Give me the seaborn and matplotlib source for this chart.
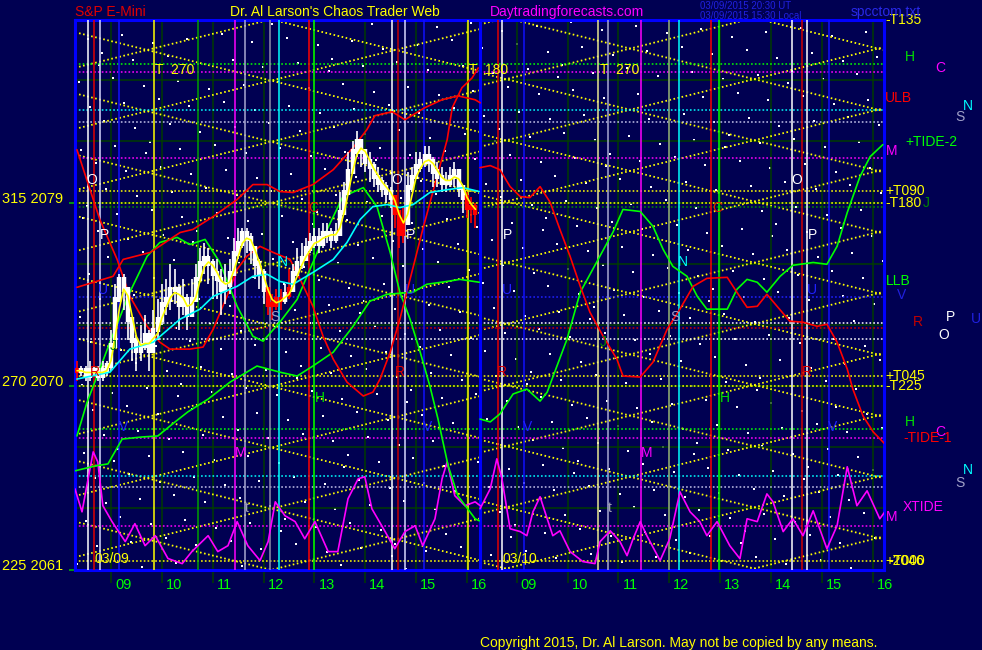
import numpy as np
import pandas as pd
import matplotlib
matplotlib.use("Agg")
import matplotlib.pyplot as plt
import matplotlib.transforms as mtransforms
import seaborn as sns

# ---------------- data ----------------
DAY2 = 7.977            # hours that the 03/10 panel is shifted right
hours = [9, 10, 11, 12, 13, 14, 15, 16]
hour_labels = ["09", "10", "11", "12", "13", "14", "15", "16"]

# 03/09 five minute bars, first bar 08:20 local
bar_start = 8 + 20 / 60
bar_close = [2070.75, 2070.75, 2070.5, 2070.75, 2070.75, 2070.5, 2070.75, 2071.0, 2072.0, 2074.25,
             2075.25, 2074.75, 2073.25, 2072.25, 2071.75, 2072.0, 2072.5, 2071.75, 2072.75, 2073.25,
             2074.0, 2074.25, 2074.75, 2074.75, 2074.0, 2074.25, 2073.5, 2074.25, 2075.25, 2076.0,
             2076.25, 2076.0, 2075.5, 2075.25, 2074.75, 2075.0, 2075.5, 2076.5, 2077.0, 2077.5,
             2077.25, 2076.75, 2076.0, 2075.5, 2074.75, 2074.0, 2074.0, 2074.25, 2074.25, 2074.5,
             2074.75, 2075.5, 2076.0, 2076.25, 2076.75, 2077.0, 2077.25, 2077.0, 2077.5, 2077.5,
             2077.25, 2077.5, 2078.5, 2079.5, 2080.5, 2081.5, 2082.0, 2081.5, 2081.0, 2080.75,
             2080.25, 2080.0, 2079.75, 2079.5, 2079.25, 2078.5, 2077.5, 2078.0, 2079.75, 2080.25,
             2080.75, 2081.0, 2081.25, 2081.0, 2080.5, 2080.25, 2080.0, 2080.0, 2080.25, 2080.5,
             2079.75, 2079.25, 2078.75, 2078.75, 2078.5]
bar_high = [2071.25, 2071.0, 2071.0, 2071.25, 2071.0, 2071.0, 2071.25, 2071.25, 2072.75, 2075.0,
            2075.5, 2075.5, 2074.25, 2073.25, 2072.5, 2073.0, 2073.5, 2072.75, 2073.75, 2074.25,
            2075.0, 2075.25, 2076.0, 2075.75, 2075.0, 2075.25, 2074.5, 2075.25, 2076.0, 2076.75,
            2077.0, 2076.75, 2076.25, 2076.25, 2075.75, 2076.0, 2076.25, 2077.25, 2077.75, 2077.75,
            2077.75, 2077.5, 2076.75, 2076.25, 2075.75, 2074.75, 2074.5, 2074.75, 2074.75, 2075.0,
            2075.75, 2076.0, 2076.75, 2077.0, 2077.25, 2077.5, 2077.75, 2077.75, 2078.0, 2078.0,
            2077.75, 2078.0, 2079.5, 2080.0, 2081.5, 2082.0, 2082.5, 2082.0, 2081.5, 2081.5,
            2081.0, 2080.75, 2080.25, 2080.0, 2079.75, 2079.0, 2078.25, 2078.75, 2080.5, 2080.75,
            2081.5, 2081.5, 2081.75, 2081.75, 2081.25, 2081.0, 2080.75, 2080.5, 2080.75, 2081.0,
            2080.5, 2079.75, 2079.5, 2079.25, 2079.0]
bar_low = [2070.25, 2070.5, 2070.25, 2070.25, 2070.5, 2070.25, 2070.25, 2070.5, 2070.75, 2072.25,
           2074.25, 2073.75, 2072.25, 2071.25, 2070.75, 2071.25, 2071.75, 2070.75, 2071.75, 2072.25,
           2073.0, 2073.5, 2073.75, 2074.0, 2072.75, 2073.5, 2072.75, 2073.5, 2074.5, 2075.25,
           2075.5, 2075.0, 2074.25, 2074.25, 2073.5, 2074.0, 2074.5, 2075.75, 2076.25, 2076.75,
           2076.5, 2076.0, 2075.25, 2074.75, 2074.0, 2073.5, 2073.25, 2073.75, 2073.75, 2074.0,
           2074.25, 2075.0, 2075.5, 2075.75, 2076.25, 2076.5, 2076.75, 2076.5, 2076.75, 2077.0,
           2076.75, 2077.0, 2077.5, 2078.75, 2079.5, 2080.75, 2081.25, 2080.75, 2080.5, 2080.0,
           2079.75, 2079.5, 2079.25, 2079.0, 2078.75, 2077.75, 2076.75, 2077.0, 2078.75, 2079.5,
           2080.25, 2080.5, 2080.75, 2080.5, 2079.75, 2079.75, 2079.5, 2079.5, 2079.75, 2079.75,
           2079.25, 2078.5, 2078.25, 2078.0, 2077.75]
red_bars = [0, 45, 46, 47, 48, 50, 75, 76, 77, 92, 93, 94]

# indicator lines, (clock hour, price); day 1 = 03/09, day 2 = 03/10
cyan_t = [8.33, 8.98, 9.37, 9.83, 10.36, 10.75, 11.01, 11.48, 11.79, 12.07, 12.32, 12.58,
          12.97, 13.37, 13.64, 13.9, 14.15, 14.43, 14.68, 14.94, 15.27, 15.61, 15.92, 16.24]
cyan_p = [2070.34, 2070.68, 2071.81, 2072.15, 2073.28, 2073.77, 2074.4, 2074.89, 2075.38, 2075.48,
          2075.13, 2074.99, 2075.57, 2076.21, 2077.04, 2078.17, 2078.8, 2078.9, 2078.75, 2078.9,
          2079.49, 2079.63, 2079.73, 2079.54]

green1_t = [8.33, 8.53, 8.78, 8.98, 9.37, 9.71, 9.96, 10.3, 10.55, 10.85, 11.14, 11.48, 11.79,
            11.99, 12.32, 12.66, 12.97, 13.25, 13.56, 13.96, 14.23, 14.49, 14.68, 14.88, 15.08,
            15.27, 15.43, 15.63, 15.82, 16.16, 16.24]
green1_p = [2067.55, 2069.21, 2070.83, 2072.15, 2074.6, 2076.36, 2077.04, 2077.29, 2076.94,
            2077.19, 2076.06, 2073.91, 2072.44, 2072.2, 2073.13, 2074.25, 2076.06, 2077.68,
            2079.29, 2079.73, 2078.8, 2076.55, 2074.6, 2073.28, 2071.66, 2070.0, 2068.38,
            2066.08, 2064.62, 2063.49, 2063.39]

green2_t = [8.29, 8.69, 8.94, 9.22, 9.61, 9.92, 10.26, 10.51, 10.91, 11.34, 11.87, 12.32, 12.66,
            12.97, 13.37, 13.76, 14.09, 14.43, 14.94, 15.21, 15.61, 15.86, 16.24]
green2_p = [2065.84, 2066.08, 2066.18, 2067.4, 2067.5, 2067.55, 2068.24, 2068.73, 2069.36,
            2070.19, 2070.98, 2070.68, 2070.49, 2070.98, 2071.66, 2072.93, 2074.16, 2074.5,
            2074.6, 2074.99, 2075.13, 2075.23, 2075.09]

red1_t = [8.33, 9.04, 9.24, 9.77, 10.36, 10.61, 11.01, 11.48, 11.79, 12.07, 12.32, 12.58, 12.97,
          13.37, 13.76, 14.03, 14.19, 14.53, 14.78, 15.17, 15.51, 15.82, 16.16, 16.26]
red1_p = [2074.84, 2075.38, 2076.21, 2076.55, 2077.53, 2077.68, 2078.31, 2079.15, 2079.88,
          2079.88, 2079.54, 2079.49, 2079.88, 2080.61, 2081.69, 2082.57, 2083.26, 2083.45,
          2083.06, 2083.65, 2084.04, 2084.23, 2084.04, 2083.89]

red2_t = [8.33, 8.78, 9.12, 9.37, 9.71, 9.96, 10.16, 10.55, 10.81, 11.01, 11.28, 11.48, 11.67,
          11.93, 12.19, 12.52, 12.72, 12.97, 13.17, 13.37, 13.64, 13.96, 14.15, 14.29, 14.49,
          14.68, 14.88, 15.13, 15.41, 15.61, 15.71, 15.9, 16.1, 16.22]
red2_p = [2081.59, 2078.17, 2076.21, 2074.4, 2072.93, 2072.15, 2071.81, 2071.81, 2071.91,
          2072.79, 2074.4, 2075.72, 2076.36, 2076.85, 2076.55, 2076.21, 2075.23, 2073.91,
          2072.44, 2071.32, 2070.19, 2069.51, 2069.7, 2070.34, 2071.66, 2073.28, 2075.23,
          2077.68, 2080.27, 2082.08, 2083.65, 2084.63, 2085.11, 2085.6]

xtide1_t = [8.29, 8.43, 8.55, 8.65, 8.74, 8.84, 9.02, 9.28, 9.47, 9.67, 9.87, 10.12, 10.4, 10.59,
            10.79, 10.91, 11.1, 11.3, 11.48, 11.69, 11.93, 12.09, 12.23, 12.42, 12.62, 12.81,
            13.01, 13.27, 13.46, 13.66, 13.86, 13.99, 14.13, 14.39, 14.58, 14.78, 14.98, 15.13,
            15.37, 15.51, 15.61, 15.76, 15.96, 16.16, 16.26]
xtide1_p = [2064.96, 2063.83, 2065.45, 2066.77, 2066.28, 2064.13, 2063.35, 2062.37, 2063.25,
            2062.17, 2062.66, 2061.54, 2061.29, 2061.88, 2062.37, 2062.66, 2061.88, 2062.17,
            2063.35, 2062.17, 2061.44, 2062.37, 2064.32, 2063.64, 2063.35, 2062.51, 2063.35,
            2061.88, 2061.88, 2064.47, 2065.45, 2065.55, 2063.98, 2062.86, 2062.02, 2062.86,
            2063.15, 2062.17, 2063.49, 2065.45, 2066.28, 2064.62, 2064.13, 2064.32, 2064.13]

green3_t = [8.28, 8.48, 8.67, 8.93, 9.2, 9.46, 9.6, 9.99, 10.25, 10.58, 10.89, 11.09, 11.43,
            11.68, 11.88, 12.07, 12.35, 12.55, 12.74, 13.14, 13.33, 13.53, 13.73, 13.92, 14.18,
            14.43, 14.83, 15.1, 15.3, 15.5, 15.75, 15.95, 16.2]
green3_p = [2068.38, 2068.24, 2068.63, 2069.61, 2069.85, 2069.26, 2069.7, 2072.3, 2074.6,
            2076.11, 2077.53, 2078.66, 2078.56, 2077.83, 2076.7, 2075.87, 2075.38, 2074.4,
            2073.77, 2073.77, 2074.74, 2075.23, 2075.09, 2074.6, 2075.38, 2075.92, 2076.06,
            2075.97, 2076.85, 2078.51, 2080.27, 2081.25, 2081.84]

red3_t = [8.28, 8.48, 8.67, 8.87, 9.07, 9.26, 9.46, 9.66, 9.85, 10.05, 10.25, 10.44, 10.7, 10.97,
          11.09, 11.43, 11.68, 11.96, 12.21, 12.47, 12.74, 13.14, 13.33, 13.53, 13.73, 13.92,
          14.12, 14.37, 14.63, 14.91, 15.1, 15.3, 15.5, 15.61, 15.81, 16.01, 16.24]
red3_p = [2080.71, 2080.81, 2080.61, 2079.78, 2079.29, 2079.24, 2079.78, 2079.0, 2077.68,
          2076.36, 2074.89, 2073.62, 2072.44, 2071.32, 2070.49, 2070.44, 2071.17, 2072.79,
          2073.77, 2074.89, 2075.28, 2075.33, 2074.6, 2073.86, 2073.91, 2074.5, 2073.91,
          2073.18, 2073.13, 2072.93, 2073.03, 2072.15, 2070.83, 2069.85, 2068.53, 2067.75,
          2067.16]

xtide2_t = [8.28, 8.48, 8.61, 8.71, 8.87, 9.07, 9.2, 9.32, 9.46, 9.6, 9.71, 9.85, 10.05, 10.3,
            10.54, 10.64, 10.84, 11.03, 11.17, 11.29, 11.43, 11.56, 11.82, 12.01, 12.21, 12.41,
            12.6, 12.74, 12.94, 13.19, 13.39, 13.53, 13.73, 13.92, 14.04, 14.24, 14.43, 14.63,
            14.83, 15.1, 15.3, 15.5, 15.69, 15.89, 16.14, 16.24]
xtide2_p = [2063.98, 2064.96, 2066.43, 2065.45, 2063.0, 2062.86, 2062.66, 2063.83, 2064.57,
            2063.49, 2062.66, 2062.9, 2061.88, 2061.39, 2061.29, 2062.37, 2062.9, 2062.37,
            2061.68, 2062.51, 2063.35, 2062.66, 2061.44, 2062.51, 2064.81, 2063.83, 2063.35,
            2062.66, 2063.35, 2062.17, 2061.53, 2063.49, 2063.35, 2064.71, 2064.32, 2062.86,
            2063.49, 2062.66, 2063.88, 2062.02, 2063.15, 2066.04, 2064.13, 2064.86, 2063.49,
            2063.83]

# vertical event lines (clock hour, colour)
day1_events = [8.54, 8.67, 8.78, 9.16, 9.84, 10.71, 11.43, 11.64, 12.12, 12.3, 12.89, 13.0,
               14.52, 14.65, 14.79, 15.16, 16.01]
day1_colors = ["#FFFFFF", "#E00000", "#D8D8FF", "#1010FF", "#FFFF00", "#00A000", "#FF00FF",
               "#A8A8D0", "#9090A8", "#00FFFF", "#FF0000", "#00FF00", "#FFFFFF", "#C00000",
               "#D8D8FF", "#1010FF", "#FFFF00"]
day2_events = [8.64, 8.72, 9.15, 10.59, 10.79, 11.44, 12.0, 12.2, 12.83, 12.98, 14.42, 14.62,
               14.71, 15.15]
day2_colors = ["#E00000", "#FFFFFF", "#1010FF", "#E8E890", "#A8A8D0", "#FF00FF", "#98A888",
               "#00FFFF", "#FF0000", "#00FF00", "#FFFFFF", "#D00000", "#FFFFFF", "#1010FF"]

# horizontal price levels
level_prices = [2085.8, 2085.41, 2083.55, 2082.96, 2081.2, 2078.8, 2074.35, 2073.08, 2072.84,
                2072.3, 2067.89, 2067.45, 2065.6, 2065.06, 2063.15,
                2079.54, 2079.0, 2070.49, 2070.0, 2061.44]
level_colors = ["#00FF00", "#FF00FF", "#00FFFF", "#C0C0E8", "#FF00FF", "#009000", "#2020FF",
                "#FFFFFF", "#D00000", "#FFFFFF", "#00FF00", "#FF00FF", "#00FFFF", "#C0C0E8",
                "#FF00FF", "#FFFF00", "#FFFF00", "#FFFF00", "#FFFF00", "#FFFF00"]

# diagonal flux lattices (anchor hour, anchor price), slope pts/hour, spacing pts
lattice_anchor = [(9.71, 2086.48), (11.23, 2083.55)]
lattice_slope = 0.615
lattice_step = 3.0

# right margin legend texts: (text, price, axes x, colour)
side_labels = [("-T135", 2087.95, 1.002, "#FFFF00"), ("H", 2086.14, 1.026, "#00E000"),
               ("C", 2085.6, 1.063, "#FF00FF"), ("ULB", 2084.14, 1.001, "#FF0000"),
               ("N", 2083.74, 1.098, "#00FFFF"), ("S", 2083.2, 1.088, "#A0A0C8"),
               ("+TIDE-2", 2081.98, 1.026, "#00FF00"), ("M", 2081.54, 1.002, "#FF00FF"),
               ("+T090", 2079.54, 1.002, "#FFFF00"), ("-T180", 2079.0, 1.002, "#FFFF00"),
               ("J", 2079.0, 1.048, "#008800"), ("LLB", 2075.13, 1.002, "#00FF00"),
               ("V", 2074.45, 1.016, "#2020E0"), ("R", 2073.13, 1.036, "#C00000"),
               ("P", 2073.37, 1.077, "#FFFFFF"), ("U", 2073.28, 1.108, "#2020E0"),
               ("O", 2072.49, 1.067, "#FFFFFF"), ("+T045", 2070.49, 1.002, "#FFFF00"),
               ("-T225", 2070.0, 1.002, "#FFFF00"), ("H", 2068.24, 1.026, "#00E000"),
               ("C", 2067.75, 1.063, "#FF00FF"), ("-TIDE-1", 2067.45, 1.0235, "#FF0000"),
               ("N", 2065.89, 1.098, "#00FFFF"), ("S", 2065.25, 1.088, "#A0A0C8"),
               ("XTIDE", 2064.08, 1.0235, "#FF00FF"), ("M", 2063.59, 1.002, "#FF00FF"),
               ("+T000", 2061.44, 1.002, "#FFFF00"), ("-2046", 2061.44, 1.006, "#FFFF00")]

# letters inside the chart: (day, clock hour, price, text, colour)
chart_marks = [(0, 9.87, 2085.5, "T  270", "#FFFF00"), (0, 16.03, 2085.5, "T  180", "#FFFF00"),
               (1, 10.64, 2085.5, "T  270", "#FFFF00"),
               (0, 8.63, 2080.1, "O", "#FFFFFF"), (0, 8.88, 2077.4, "P", "#FFFFFF"),
               (0, 14.62, 2080.1, "O", "#FFFFFF"), (0, 14.88, 2077.4, "P", "#FFFFFF"),
               (1, 8.81, 2077.4, "P", "#FFFFFF"), (1, 14.51, 2080.1, "O", "#FFFFFF"),
               (1, 14.81, 2077.4, "P", "#FFFFFF"),
               (0, 8.84, 2074.7, "U", "#2020FF"), (0, 14.88, 2074.7, "U", "#2020FF"),
               (1, 8.81, 2074.7, "U", "#2020FF"), (1, 14.81, 2074.7, "U", "#2020FF"),
               (0, 12.38, 2076.1, "N", "#00FFFF"), (1, 12.27, 2076.1, "N", "#00FFFF"),
               (0, 12.22, 2073.4, "S", "#A0A0C8"), (1, 12.11, 2073.4, "S", "#A0A0C8"),
               (0, 12.97, 2078.75, "C", "#E02000"), (1, 12.94, 2078.75, "C", "#E02000"),
               (0, 8.69, 2070.7, "R", "#E00000"), (0, 14.68, 2070.7, "R", "#E00000"),
               (1, 8.71, 2070.7, "R", "#E00000"), (1, 14.71, 2070.7, "R", "#E00000"),
               (0, 13.11, 2069.4, "H", "#00E000"), (1, 13.09, 2069.4, "H", "#00E000"),
               (0, 11.54, 2066.7, "M", "#FF00FF"), (1, 11.56, 2066.7, "M", "#FF00FF"),
               (0, 11.67, 2064.0, "t", "#A0A0B0"), (1, 10.84, 2064.0, "t", "#A0A0B0"),
               (0, 9.24, 2068.0, "V", "#2020FF"), (0, 15.23, 2068.0, "V", "#2020FF"),
               (1, 9.22, 2068.0, "V", "#2020FF"), (1, 15.22, 2068.0, "V", "#2020FF"),
               (0, 9.05, 2071.95, "J", "#008800"), (1, 10.7, 2072.15, "J", "#008800")]

price_ticks = [2079, 2070, 2061]
price_tick_labels = ["315 2079", "270 2070", "225 2061"]

# ---------------- drawing ----------------
BG = "#000052"
sns.set_theme(style="dark", rc={"axes.facecolor": BG, "figure.facecolor": BG,
                                "axes.grid": False})
plt.rcParams["font.family"] = ["Liberation Sans", "DejaVu Sans"]

fig = plt.figure(figsize=(9.82, 6.5), dpi=100)
ax = fig.add_axes([0.07637, 0.1238, 0.8238, 0.8454])
ax.set_facecolor(BG)
X0, X1 = 8.292, 24.199
ax.set_xlim(X0, X1)
ax.set_ylim(2061.07, 2087.95)
day_edge = 16.255

# star speckle (low discrepancy sequence, texture only)
n = np.arange(1, 650)
sx = (0.5 + n * 0.7548776662466927) % 1
sy = (0.5 + n * 0.5698402909980532) % 1
ax.scatter(sx, sy, s=1.6, marker="s", color="white", linewidths=0,
           transform=ax.transAxes, zorder=1)

# dark green grid
for d in (0, DAY2):
    for h in hours:
        ax.axvline(h + d, color="#003c00", lw=1.1, zorder=1)
for p in range(2064, 2087, 3):
    ax.axhline(p, color="#003c00", lw=1.1, zorder=1)

# flux lattices
spans = [(X0, day_edge), (day_edge, X1)]
for (at, ap), (ta, tb), d in zip(lattice_anchor, spans, (0, DAY2)):
    at = at + d
    for k in range(-14, 16):
        for sgn in (1, -1):
            pa = ap + k * lattice_step + sgn * lattice_slope * (ta - at)
            pb = ap + k * lattice_step + sgn * lattice_slope * (tb - at)
            ax.plot([ta, tb], [pa, pb], color="#FFFF00", lw=1.3,
                    ls=(0, (0.9, 1.4)), zorder=2)

# horizontal levels
for p, c in zip(level_prices, level_colors):
    ax.axhline(p, color=c, lw=1.1, ls=(0, (1.1, 1.4)), zorder=2)

# event verticals
for h, c in zip(day1_events, day1_colors):
    ax.axvline(h, color=c, lw=1.1, zorder=3)
for h, c in zip(day2_events, day2_colors):
    ax.axvline(h + DAY2, color=c, lw=1.1, zorder=3)
ax.axvline(day_edge, color="#0000FF", lw=2.2, zorder=3)


def draw(t, p, color, day=0, lw=1.2, z=4):
    sns.lineplot(x=np.asarray(t) + day * DAY2, y=p, ax=ax, color=color, lw=lw,
                 sort=False, estimator=None, zorder=z)


draw(xtide1_t, xtide1_p, "#FF00FF")
draw(xtide2_t, xtide2_p, "#FF00FF", day=1)
draw(green2_t, green2_p, "#00FF00")
draw(green1_t, green1_p, "#00FF00")
draw(green3_t, green3_p, "#00FF00", day=1)
draw(red1_t, red1_p, "#FF0000")
draw(red2_t, red2_p, "#FF0000")
draw(red3_t, red3_p, "#FF0000", day=1)
draw(cyan_t, cyan_p, "#00FFFF", z=6)

# price bars
bars = pd.DataFrame({"close": bar_close, "high": bar_high, "low": bar_low})
bars["t"] = bar_start + bars.index * 5 / 60
bars["open"] = bars["close"].shift(1).fillna(bars["close"])
bars["color"] = "#FFFFFF"
bars.loc[red_bars, "color"] = "#FF0000"
ax.vlines(bars["t"], bars["low"], bars["high"], colors=bars["color"], lw=1.2, zorder=5)
body_lo = np.minimum(bars["open"], bars["close"]) - 0.12
body_hi = np.maximum(bars["open"], bars["close"]) + 0.12
ax.vlines(bars["t"], body_lo, body_hi, colors=bars["color"], lw=3.2, zorder=5)
ma = bars["close"].rolling(3, min_periods=1).mean()
draw(bars["t"], ma, "#FFFF00", z=6)
ax.set_xlabel("")
ax.set_ylabel("")

# letters in chart
for day, h, p, txt, c in chart_marks:
    ha = "left" if len(txt) > 1 else "center"
    ax.text(h + day * DAY2, p, txt, color=c, fontsize=10, ha=ha, va="center", zorder=7)
ax.text(8.685, 2061.5, "03/09", color="#FFFF00", fontsize=10, ha="left", va="center", zorder=7)
ax.text(8.73 + DAY2, 2061.5, "03/10", color="#FFFF00", fontsize=10, ha="left", va="center",
        zorder=7)

# axes frame and ticks
for s in ax.spines.values():
    s.set_color("#0000FF")
    s.set_linewidth(2.2)
xt = [h + d for d in (0, DAY2) for h in hours]
ax.set_xticks(xt)
ax.set_xticklabels([])
ax.tick_params(axis="x", direction="out", length=9, width=1.1, color="#003c00", bottom=True)
ax.set_yticks(price_ticks)
ax.set_yticklabels([])
ax.tick_params(axis="y", direction="out", length=4, width=1.1, color="#00C000", left=True)

xfm = mtransforms.blended_transform_factory(ax.transData, ax.transAxes)
for d in (0, DAY2):
    for h, lab in zip(hours, hour_labels):
        ax.text(h + d + 0.08, -0.028, lab, color="#00FF00", fontsize=10.5,
                ha="left", va="center", transform=xfm, clip_on=False)

yfm = ax.get_yaxis_transform()
for p, lab in zip(price_ticks, price_tick_labels):
    ax.text(-0.0902, p, lab, color="#FFFF00", fontsize=10.5, ha="left", va="baseline",
            transform=yfm, clip_on=False)
for txt, p, xa, c in side_labels:
    ax.text(xa, p, txt, color=c, fontsize=10, ha="left", va="center", transform=yfm,
            clip_on=False)

# header and footer
fig.text(0.0764, 0.9815, "S&P E-Mini", color="#E00000", fontsize=10, va="center")
fig.text(0.2342, 0.9815, "Dr. Al Larson's Chaos Trader Web", color="#FFFF00", fontsize=10,
         va="center")
fig.text(0.499, 0.9815, "Daytradingforecasts.com", color="#FF00FF", fontsize=10, va="center")
fig.text(0.7128, 0.9905, "03/09/2015 20:30 UT", color="#2020E0", fontsize=7, va="center")
fig.text(0.7128, 0.9755, "03/09/2015 15:30 Local", color="#2020E0", fontsize=7, va="center")
fig.text(0.8666, 0.9815, "spcctom.txt", color="#2828E8", fontsize=10, va="center")
fig.text(0.4888, 0.0108, "Copyright 2015, Dr. Al Larson. May not be copied by any means.",
         color="#FFFF00", fontsize=10, va="center")

fig.savefig("out.png", dpi=100, facecolor=BG)
